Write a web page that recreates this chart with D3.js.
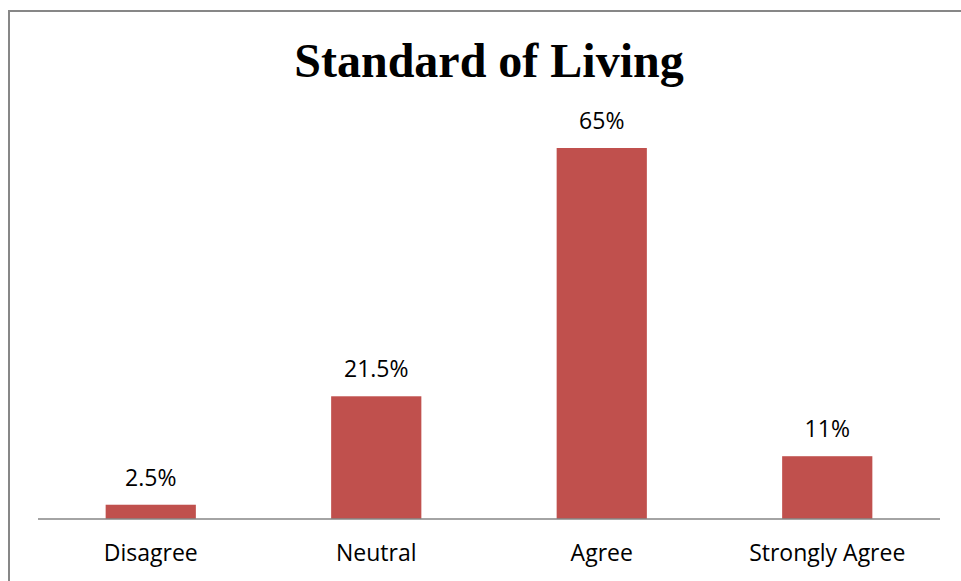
<!DOCTYPE html>
<html>
<head>
<meta charset="utf-8">
<script src="https://cdn.jsdelivr.net/npm/d3@7"></script>
<style>
  body { margin: 0; background: #fff; }
  svg { display: block; }
</style>
</head>
<body>
<svg id="chart" width="961" height="581"></svg>
<script>
// Standard of Living - simple bar chart
const categories = ['Disagree', 'Neutral', 'Agree', 'Strongly Agree'];
const values = [2.5, 21.5, 65, 11];
const valueLabels = ['2.5%', '21.5%', '65%', '11%'];
const chartTitle = 'Standard of Living';

const svg = d3.select('#chart');
const width = 961;
const height = 581;

// outer chart border (continues past the right/bottom edge)
svg.append('rect')
    .attr('x', 9)
    .attr('y', 11)
    .attr('width', width + 20)
    .attr('height', height + 20)
    .style('fill', '#fff')
    .style('stroke', '#878787')
    .style('stroke-width', 2);

const plot = { left: 38, right: 940, top: 148, bottom: 519 };

const x = d3.scaleBand()
    .domain(categories)
    .range([plot.left, plot.right])
    .paddingInner(0.6)
    .paddingOuter(0.3);

const y = d3.scaleLinear()
    .domain([0, 65])
    .range([plot.bottom, plot.top]);

// bars
svg.selectAll('.bar')
    .data(values)
    .enter()
    .append('rect')
    .attr('class', 'bar')
    .attr('x', (d, i) => x(categories[i]))
    .attr('y', d => y(d))
    .attr('width', x.bandwidth())
    .attr('height', d => y(0) - y(d))
    .style('fill', '#C0504D');

// baseline
svg.append('line')
    .attr('x1', plot.left)
    .attr('x2', plot.right)
    .attr('y1', y(0))
    .attr('y2', y(0))
    .style('stroke', '#868686')
    .style('stroke-width', 1.5);

const labelFont = '"Open Sans", Lato, sans-serif';

// value labels
svg.selectAll('.value-label')
    .data(values)
    .enter()
    .append('text')
    .attr('class', 'value-label')
    .attr('x', (d, i) => x(categories[i]) + x.bandwidth() / 2)
    .attr('y', d => y(d) - 19)
    .style('font-family', labelFont)
    .style('font-size', '23px')
    .style('fill', '#000')
    .style('text-anchor', 'middle')
    .text((d, i) => valueLabels[i]);

// category labels
svg.selectAll('.cat-label')
    .data(categories)
    .enter()
    .append('text')
    .attr('class', 'cat-label')
    .attr('x', d => x(d) + x.bandwidth() / 2)
    .attr('y', 561)
    .style('font-family', labelFont)
    .style('font-size', '23px')
    .style('fill', '#000')
    .style('text-anchor', 'middle')
    .text(d => d);

// title
svg.append('text')
    .attr('x', 489)
    .attr('y', 77)
    .style('font-family', '"Liberation Serif", "Times New Roman", serif')
    .style('font-weight', 'bold')
    .style('font-size', '48px')
    .style('fill', '#000')
    .style('text-anchor', 'middle')
    .text(chartTitle);
</script>
</body>
</html>
